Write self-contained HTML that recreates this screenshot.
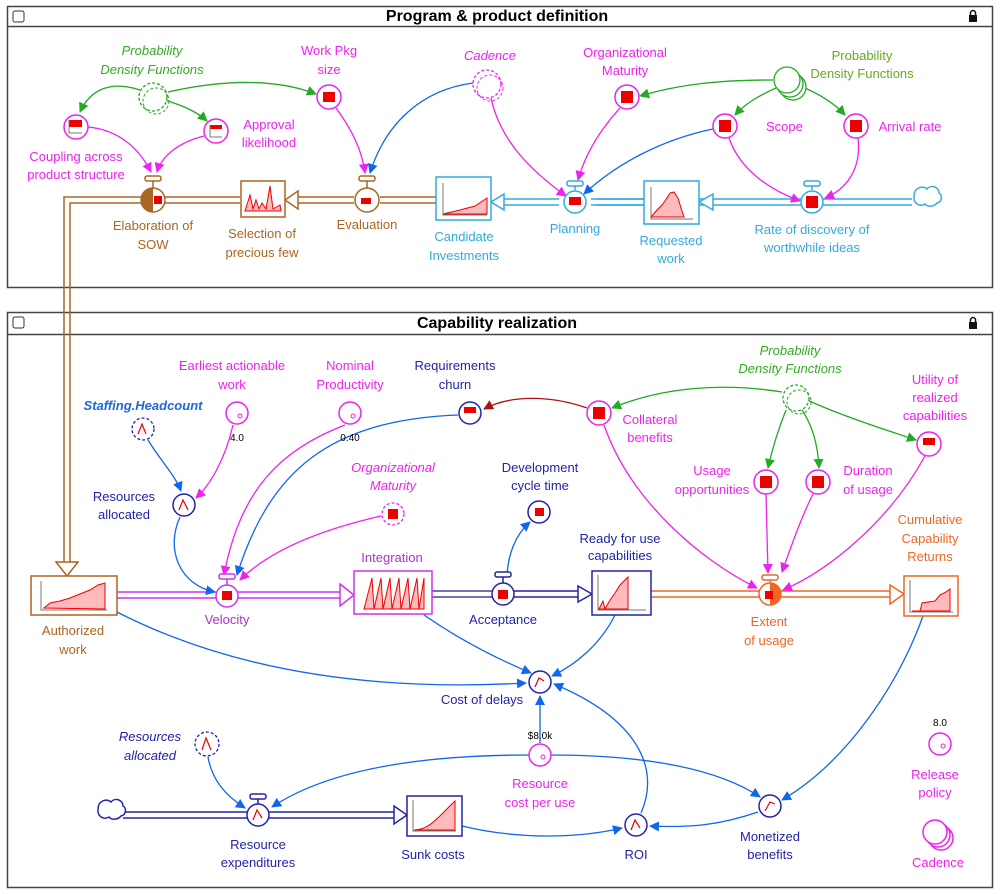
<!DOCTYPE html>
<html><head><meta charset="utf-8"><style>
body{margin:0;background:#fff}
svg{display:block;font-family:"Liberation Sans",sans-serif}
text{font-size:13px;text-anchor:middle}
.mg{fill:#ee22ee}.gr{fill:#33aa22}.yg{fill:#66aa22}.bl{fill:#2266dd}.cy{fill:#33aadd}.br{fill:#aa6622}.db{fill:#2222aa}.or{fill:#ee6622}.pu{fill:#aa33cc}
.it{font-style:italic}
</style></head><body>
<svg width="1000" height="894" viewBox="0 0 1000 894" xmlns="http://www.w3.org/2000/svg">
<defs>
<marker id="mm" markerWidth="10" markerHeight="10" refX="9" refY="5" orient="auto" markerUnits="userSpaceOnUse"><path d="M0,0L10,5L0,10z" fill="#ee22ee"/></marker>
<marker id="mg" markerWidth="10" markerHeight="10" refX="9" refY="5" orient="auto" markerUnits="userSpaceOnUse"><path d="M0,0L10,5L0,10z" fill="#22aa22"/></marker>
<marker id="mb" markerWidth="10" markerHeight="10" refX="9" refY="5" orient="auto" markerUnits="userSpaceOnUse"><path d="M0,0L10,5L0,10z" fill="#1166ee"/></marker>
<marker id="mr" markerWidth="10" markerHeight="10" refX="9" refY="5" orient="auto" markerUnits="userSpaceOnUse"><path d="M0,0L10,5L0,10z" fill="#aa1111"/></marker>
</defs>
<!-- frames -->
<rect x="7.5" y="6.5" width="985" height="281" fill="#fff" stroke="#444" stroke-width="1.5"/>
<line x1="7" y1="26.5" x2="992" y2="26.5" stroke="#444" stroke-width="1.5"/>
<text x="497" y="21" style="font-size:16px;font-weight:bold">Program &amp; product definition</text>
<rect x="13" y="11" width="11" height="11" rx="2" fill="#fff" stroke="#333"/>
<rect x="969" y="15" width="8" height="7" fill="#111"/><path d="M970.5,15v-2a2.5,2.5 0 0 1 5,0v2" fill="none" stroke="#111" stroke-width="1.5"/>
<rect x="7.5" y="312.5" width="985" height="575" fill="#fff" stroke="#444" stroke-width="1.5"/>
<line x1="7" y1="334.5" x2="992" y2="334.5" stroke="#444" stroke-width="1.5"/>
<text x="497" y="328" style="font-size:16px;font-weight:bold">Capability realization</text>
<rect x="13" y="317" width="11" height="11" rx="2" fill="#fff" stroke="#333"/>
<rect x="969" y="322" width="8" height="7" fill="#111"/><path d="M970.5,322v-2a2.5,2.5 0 0 1 5,0v2" fill="none" stroke="#111" stroke-width="1.5"/>

<!-- TOP flows -->
<g fill="none" stroke="#33aadd" stroke-width="1.5">
<path d="M912,199H591M912,205H591"/>
<path d="M699,199H597M699,205H597"/>
<path d="M559,199H504M559,205H504"/>
</g>
<path d="M713,194L699,202L713,210z M504,194L491,202L504,210z" fill="#fff" stroke="#33aadd" stroke-width="1.5"/>
<path d="M914,196c0,-8 8,-11 13,-7c4,-5 12,-2 12,4c4,2 3,9 -2,10c-3,4 -10,4 -12,1c-5,3 -12,0 -11,-8z" fill="#fff" stroke="#33aadd" stroke-width="1.5"/>
<g fill="none" stroke="#aa6622" stroke-width="1.5">
<path d="M436,197H380M436,203H380"/>
<path d="M354,197H298M354,203H298"/>
<path d="M240,197H165M240,203H165"/>
<path d="M141,197H64V562M141,203H70V562"/>
</g>
<path d="M298,191L285,200L298,209z" fill="#fff" stroke="#aa6622" stroke-width="1.5"/>
<path d="M56,562H78L67,576z" fill="#fff" stroke="#aa6622" stroke-width="1.5"/>

<!-- top connectors -->
<g fill="none" stroke-width="1.3">
<path d="M140,90C110,80 90,90 80,112" stroke="#22aa22" marker-end="url(#mg)"/>
<path d="M165,100C180,105 195,110 207,121" stroke="#22aa22" marker-end="url(#mg)"/>
<path d="M168,92C230,78 280,80 316,94" stroke="#22aa22" marker-end="url(#mg)"/>
<path d="M88,127C120,130 140,150 151,172" stroke="#ee22ee" marker-end="url(#mm)"/>
<path d="M204,136C180,142 162,155 157,172" stroke="#ee22ee" marker-end="url(#mm)"/>
<path d="M336,108C352,130 362,150 365,173" stroke="#ee22ee" marker-end="url(#mm)"/>
<path d="M473,83C420,90 385,125 370,173" stroke="#1166ee" marker-end="url(#mb)"/>
<path d="M491,98C500,140 530,170 566,196" stroke="#ee22ee" marker-end="url(#mm)"/>
<path d="M620,108C600,130 585,155 578,180" stroke="#ee22ee" marker-end="url(#mm)"/>
<path d="M713,129C660,140 615,165 584,194" stroke="#1166ee" marker-end="url(#mb)"/>
<path d="M773,80C720,80 680,84 640,96" stroke="#22aa22" marker-end="url(#mg)"/>
<path d="M776,88C758,96 745,104 735,115" stroke="#22aa22" marker-end="url(#mg)"/>
<path d="M800,86C820,94 835,104 845,115" stroke="#22aa22" marker-end="url(#mg)"/>
<path d="M729,138C740,170 770,190 800,201" stroke="#ee22ee" marker-end="url(#mm)"/>
<path d="M858,138C862,170 845,190 825,198" stroke="#ee22ee" marker-end="url(#mm)"/>
</g>

<!-- top nodes -->
<circle cx="153" cy="97" r="14" fill="#fff" stroke="#22aa22" stroke-dasharray="3,2" stroke-width="1.3"/>
<circle cx="156" cy="101" r="13" fill="none" stroke="#22aa22" stroke-dasharray="3,2" stroke-width="1"/>
<circle cx="487" cy="84" r="14" fill="#fff" stroke="#ee22ee" stroke-dasharray="3,2" stroke-width="1.3"/>
<circle cx="490" cy="88" r="13" fill="none" stroke="#ee22ee" stroke-dasharray="3,2" stroke-width="1"/>
<circle cx="793" cy="87" r="13" fill="#fff" stroke="#22aa22" stroke-width="1.3"/>
<circle cx="790" cy="84" r="13" fill="#fff" stroke="#22aa22" stroke-width="1.3"/>
<circle cx="787" cy="80" r="13" fill="#fff" stroke="#22aa22" stroke-width="1.3"/>
<g stroke="#ee22ee" stroke-width="1.5" fill="#fff">
<circle cx="76" cy="127" r="12"/><circle cx="216" cy="131" r="12"/><circle cx="329" cy="97" r="12"/>
<circle cx="627" cy="97" r="12"/><circle cx="725" cy="126" r="12"/><circle cx="856" cy="126" r="12"/>
</g>
<g fill="#ee0000">
<rect x="69" y="120" width="13" height="7"/><rect x="210" y="125" width="12" height="4"/><rect x="323" y="92" width="12" height="10"/>
<rect x="621" y="91" width="12" height="12"/><rect x="719" y="120" width="12" height="12"/><rect x="850" y="120" width="12" height="12"/>
</g>
<path d="M69,120V133H82M210,125V137H222" fill="none" stroke="#777" stroke-width="1"/>
<!-- valves top -->
<g stroke-width="1.5">
<rect x="145" y="176" width="16" height="5" rx="2" fill="#fff" stroke="#aa6622"/><line x1="153" y1="181" x2="153" y2="188" stroke="#aa6622"/>
<circle cx="153" cy="200" r="12" fill="#fff" stroke="#aa6622"/><path d="M153,188A12,12 0 0 0 153,212z" fill="#aa6622"/>
<rect x="359" y="176" width="16" height="5" rx="2" fill="#fff" stroke="#aa6622"/><line x1="367" y1="181" x2="367" y2="188" stroke="#aa6622"/>
<circle cx="367" cy="200" r="12" fill="#fff" stroke="#aa6622"/>
<rect x="567" y="181" width="16" height="5" rx="2" fill="#fff" stroke="#33aadd"/><line x1="575" y1="186" x2="575" y2="190" stroke="#33aadd"/>
<circle cx="575" cy="202" r="11" fill="#fff" stroke="#33aadd"/>
<rect x="804" y="181" width="16" height="5" rx="2" fill="#fff" stroke="#33aadd"/><line x1="812" y1="186" x2="812" y2="190" stroke="#33aadd"/>
<circle cx="812" cy="202" r="11" fill="#fff" stroke="#33aadd"/>
</g>
<rect x="154" y="196" width="8" height="8" fill="#ee0000"/><rect x="361" y="198" width="10" height="6" fill="#ee0000"/>
<rect x="569" y="197" width="12" height="8" fill="#ee0000"/><rect x="806" y="196" width="12" height="12" fill="#ee0000"/>
<!-- top stocks -->
<rect x="241" y="181" width="44" height="36" fill="#fff" stroke="#aa6622" stroke-width="1.5"/>
<path d="M245,211L250,195L253,209L256,200L259,209L262,203L266,209L270,186L273,209L280,205L281,211z" fill="#ffbbbb" stroke="#ee0000"/>
<rect x="436" y="177" width="55" height="43" fill="#fff" stroke="#33aadd" stroke-width="1.5"/>
<path d="M443,214L460,210L475,206L487,198V214z" fill="#ffbbbb" stroke="#ee0000"/>
<path d="M443,183V215H487" fill="none" stroke="#777"/>
<rect x="644" y="181" width="55" height="43" fill="#fff" stroke="#33aadd" stroke-width="1.5"/>
<path d="M651,217L657,210L662,205L667,198L670,193L674,192L678,198L681,208L684,217z" fill="#ffbbbb" stroke="#ee0000"/>
<path d="M651,187V219H693" fill="none" stroke="#777"/>
<!-- top labels -->
<text class="gr it" x="152" y="55">Probability</text><text class="gr it" x="152" y="74">Density Functions</text>
<text class="mg" x="76" y="161">Coupling across</text><text class="mg" x="76" y="179">product structure</text>
<text class="mg" x="269" y="129">Approval</text><text class="mg" x="269" y="147">likelihood</text>
<text class="mg" x="329" y="55">Work Pkg</text><text class="mg" x="329" y="74">size</text>
<text class="mg it" x="490" y="60">Cadence</text>
<text class="mg" x="625" y="57">Organizational</text><text class="mg" x="625" y="75">Maturity</text>
<text class="yg" x="862" y="60">Probability</text><text class="yg" x="862" y="78">Density Functions</text>
<text class="mg" x="766" y="131" style="text-anchor:start">Scope</text>
<text class="mg" x="910" y="131">Arrival rate</text>
<text class="br" x="153" y="230">Elaboration of</text><text class="br" x="153" y="249">SOW</text>
<text class="br" x="262" y="238">Selection of</text><text class="br" x="262" y="257">precious few</text>
<text class="br" x="367" y="229">Evaluation</text>
<text class="cy" x="464" y="241">Candidate</text><text class="cy" x="464" y="260">Investments</text>
<text class="cy" x="575" y="233">Planning</text>
<text class="cy" x="671" y="245">Requested</text><text class="cy" x="671" y="263">work</text>
<text class="cy" x="812" y="234">Rate of discovery of</text><text class="cy" x="812" y="252">worthwhile ideas</text>

<!-- BOTTOM flows -->
<g fill="none" stroke-width="1.5">
<path d="M117,592H216M117,598H216" stroke="#cc33ee"/>
<path d="M238,592H340M238,598H340" stroke="#cc33ee"/>
<path d="M432,591H492M432,597H492" stroke="#444499"/>
<path d="M514,591H578M514,597H578" stroke="#2222aa"/>
<path d="M651,591H759M651,597H759" stroke="#ee6622"/>
<path d="M781,591H890M781,597H890" stroke="#ee6622"/>
<path d="M123,812H247M123,818H247" stroke="#2222aa"/>
<path d="M269,812H394M269,818H394" stroke="#2222aa"/>
</g>
<path d="M340,584L354,595L340,606z" fill="#fff" stroke="#cc33ee" stroke-width="1.5"/>
<path d="M578,586L592,594L578,602z" fill="#fff" stroke="#2222aa" stroke-width="1.5"/>
<path d="M890,585L904,594L890,604z" fill="#fff" stroke="#ee6622" stroke-width="1.5"/>
<path d="M394,806L407,815L394,824z" fill="#fff" stroke="#2222aa" stroke-width="1.5"/>
<path d="M98,809c0,-8 8,-11 13,-7c4,-5 12,-2 12,4c4,2 3,9 -2,10c-3,4 -10,4 -12,1c-5,3 -12,0 -11,-8z" fill="#fff" stroke="#2222aa" stroke-width="1.5"/>

<!-- bottom connectors -->
<g fill="none" stroke-width="1.3">
<path d="M148,440C160,460 175,475 181,491" stroke="#1166ee" marker-end="url(#mb)"/>
<path d="M233,425C225,460 210,485 196,498" stroke="#ee22ee" marker-end="url(#mm)"/>
<path d="M180,517C165,550 180,585 215,592" stroke="#1166ee" marker-end="url(#mb)"/>
<path d="M345,425C280,450 240,490 224,575" stroke="#ee22ee" marker-end="url(#mm)"/>
<path d="M458,415C330,420 270,470 237,575" stroke="#1166ee" marker-end="url(#mb)"/>
<path d="M381,516C320,530 270,550 240,580" stroke="#ee22ee" marker-end="url(#mm)"/>
<path d="M587,408C550,395 510,395 484,409" stroke="#aa1111" marker-end="url(#mr)"/>
<path d="M782,392C720,382 660,388 612,408" stroke="#22aa22" marker-end="url(#mg)"/>
<path d="M786,410C778,430 772,450 768,468" stroke="#22aa22" marker-end="url(#mg)"/>
<path d="M802,410C812,425 818,445 819,468" stroke="#22aa22" marker-end="url(#mg)"/>
<path d="M807,400C840,415 880,428 916,440" stroke="#22aa22" marker-end="url(#mg)"/>
<path d="M604,425C630,500 700,560 757,588" stroke="#ee22ee" marker-end="url(#mm)"/>
<path d="M766,494L768,573" stroke="#ee22ee" marker-end="url(#mm)"/>
<path d="M813,494C800,520 790,550 782,572" stroke="#ee22ee" marker-end="url(#mm)"/>
<path d="M925,456C890,520 830,570 783,590" stroke="#ee22ee" marker-end="url(#mm)"/>
<path d="M507,576C508,555 515,535 530,522" stroke="#1166ee" marker-end="url(#mb)"/>
<path d="M117,612C250,680 400,690 526,683" stroke="#1166ee" marker-end="url(#mb)"/>
<path d="M424,615C460,640 500,660 531,673" stroke="#1166ee" marker-end="url(#mb)"/>
<path d="M615,615C600,645 575,665 552,676" stroke="#1166ee" marker-end="url(#mb)"/>
<path d="M540,743L540,696" stroke="#1166ee" marker-end="url(#mb)"/>
<path d="M641,813C660,770 640,720 554,684" stroke="#1166ee" marker-end="url(#mb)"/>
<path d="M208,757C212,780 225,795 245,808" stroke="#1166ee" marker-end="url(#mb)"/>
<path d="M530,755C400,755 320,775 272,807" stroke="#1166ee" marker-end="url(#mb)"/>
<path d="M550,755C650,755 720,770 760,797" stroke="#1166ee" marker-end="url(#mb)"/>
<path d="M462,826C520,840 580,838 622,828" stroke="#1166ee" marker-end="url(#mb)"/>
<path d="M758,812C720,825 690,828 650,826" stroke="#1166ee" marker-end="url(#mb)"/>
<path d="M923,616C900,680 850,760 782,800" stroke="#1166ee" marker-end="url(#mb)"/>
</g>

<!-- bottom nodes -->
<circle cx="143" cy="429" r="11" fill="#fff" stroke="#2222aa" stroke-dasharray="3,2" stroke-width="1.3"/>
<circle cx="207" cy="744" r="12" fill="#fff" stroke="#2222aa" stroke-dasharray="3,2" stroke-width="1.3"/>
<circle cx="796" cy="398" r="13" fill="#fff" stroke="#22aa22" stroke-dasharray="3,2" stroke-width="1.3"/>
<circle cx="799" cy="402" r="12" fill="none" stroke="#22aa22" stroke-dasharray="3,2" stroke-width="1"/>
<circle cx="393" cy="514" r="11" fill="#fff" stroke="#ee22ee" stroke-dasharray="3,2" stroke-width="1.3"/>
<g stroke-width="1.5" fill="#fff">
<circle cx="184" cy="505" r="11" stroke="#2222aa"/>
<circle cx="237" cy="413" r="11" stroke="#ee22ee"/>
<circle cx="350" cy="413" r="11" stroke="#ee22ee"/>
<circle cx="470" cy="413" r="11" stroke="#2222aa"/>
<circle cx="599" cy="413" r="12" stroke="#ee22ee"/>
<circle cx="929" cy="444" r="12" stroke="#ee22ee"/>
<circle cx="766" cy="482" r="12" stroke="#ee22ee"/>
<circle cx="818" cy="482" r="12" stroke="#ee22ee"/>
<circle cx="539" cy="512" r="11" stroke="#2222aa"/>
<circle cx="540" cy="682" r="11" stroke="#2222aa"/>
<circle cx="540" cy="755" r="11" stroke="#ee22ee"/>
<circle cx="636" cy="825" r="11" stroke="#2222aa"/>
<circle cx="770" cy="806" r="11" stroke="#2222aa"/>
<circle cx="940" cy="744" r="11" stroke="#ee22ee"/>
<circle cx="941" cy="838" r="12" stroke="#ee22ee"/>
<circle cx="938" cy="835" r="12" stroke="#ee22ee"/>
<circle cx="935" cy="832" r="12" stroke="#ee22ee"/>
</g>
<circle cx="240" cy="416" r="2" fill="none" stroke="#ee22ee"/><circle cx="353" cy="416" r="2" fill="none" stroke="#ee22ee"/><circle cx="943" cy="746" r="2" fill="none" stroke="#ee22ee"/><circle cx="543" cy="757" r="2" fill="none" stroke="#ee22ee"/>
<g fill="#ee0000">
<rect x="464" y="407" width="12" height="6"/><rect x="593" y="407" width="12" height="12"/><rect x="923" y="438" width="12" height="7"/>
<rect x="760" y="476" width="12" height="12"/><rect x="812" y="476" width="12" height="12"/><rect x="388" y="509" width="10" height="10"/>
<rect x="535" y="508" width="9" height="8"/>
</g>
<g fill="none" stroke="#ee0000" stroke-width="1.2">
<path d="M138,434L142,424L146,434"/><path d="M179,510L183,500L188,510"/><path d="M202,750L206,738L211,750"/>
<path d="M535,687L539,678L544,681"/><path d="M631,830L635,820L640,828"/><path d="M765,811L770,802L775,804"/>
</g>
<!-- valves bottom -->
<g stroke-width="1.5">
<rect x="219" y="574" width="16" height="5" rx="2" fill="#fff" stroke="#cc33ee"/><line x1="227" y1="579" x2="227" y2="585" stroke="#cc33ee"/>
<circle cx="227" cy="596" r="11" fill="#fff" stroke="#cc33ee"/>
<rect x="495" y="572" width="16" height="5" rx="2" fill="#fff" stroke="#2222aa"/><line x1="503" y1="577" x2="503" y2="583" stroke="#2222aa"/>
<circle cx="503" cy="594" r="11" fill="#fff" stroke="#2222aa"/>
<rect x="762" y="575" width="16" height="5" rx="2" fill="#fff" stroke="#ee6622"/><line x1="770" y1="580" x2="770" y2="583" stroke="#ee6622"/>
<circle cx="770" cy="594" r="11" fill="#fff" stroke="#ee6622"/><path d="M770,583A11,11 0 0 1 770,605z" fill="#ee6622"/>
<rect x="250" y="794" width="16" height="5" rx="2" fill="#fff" stroke="#2222aa"/><line x1="258" y1="799" x2="258" y2="804" stroke="#2222aa"/>
<circle cx="258" cy="815" r="11" fill="#fff" stroke="#2222aa"/>
</g>
<rect x="222" y="591" width="10" height="9" fill="#ee0000"/><rect x="498" y="590" width="10" height="9" fill="#ee0000"/><rect x="765" y="591" width="8" height="8" fill="#ee0000"/>
<path d="M253,820L257,810L262,818" fill="none" stroke="#ee0000" stroke-width="1.2"/>
<!-- bottom stocks -->
<rect x="31" y="576" width="86" height="39" fill="#fff" stroke="#aa6622" stroke-width="1.5"/>
<path d="M44,608L50,603L60,601L70,598L80,594L90,590L98,585L105,583V609z" fill="#ffbbbb" stroke="#ee0000"/>
<path d="M41,581V610H107" fill="none" stroke="#777"/>
<rect x="354" y="571" width="78" height="43" fill="#fff" stroke="#cc33ee" stroke-width="1.5"/>
<path d="M364,609L372,578L374,609L381,578L383,609L390,578L392,609L399,578L401,609L408,578L410,609L417,578L419,609L424,578V609z" fill="#ffbbbb" stroke="#ee0000"/>
<rect x="592" y="571" width="59" height="44" fill="#fff" stroke="#2222aa" stroke-width="1.5"/>
<path d="M599,609L603,601L605,609L610,600L615,593L620,585L625,580L628,577V609z" fill="#ffbbbb" stroke="#ee0000"/>
<path d="M598,575V610H646" fill="none" stroke="#777"/>
<rect x="904" y="576" width="54" height="40" fill="#fff" stroke="#ee6622" stroke-width="1.5"/>
<path d="M912,611L920,611L922,603L935,601L940,595L946,592L950,589V611z" fill="#ffbbbb" stroke="#ee0000"/>
<path d="M910,580V612H953" fill="none" stroke="#777"/>
<rect x="407" y="796" width="55" height="40" fill="#fff" stroke="#2222aa" stroke-width="1.5"/>
<path d="M414,830C430,830 440,815 455,801V830z" fill="#ffbbbb" stroke="#ee0000"/>
<path d="M413,800V831H456" fill="none" stroke="#777"/>
<!-- bottom labels -->
<text class="bl it" x="143" y="410" style="font-weight:bold">Staffing.Headcount</text>
<text class="db" x="124" y="501">Resources</text><text class="db" x="124" y="519">allocated</text>
<text class="mg" x="232" y="370">Earliest actionable</text><text class="mg" x="232" y="389">work</text>
<text x="237" y="441" style="font-size:10px">4.0</text>
<text class="mg" x="350" y="370">Nominal</text><text class="mg" x="350" y="389">Productivity</text>
<text x="350" y="441" style="font-size:10px">0.40</text>
<text class="db" x="455" y="370">Requirements</text><text class="db" x="455" y="389">churn</text>
<text class="mg" x="650" y="424">Collateral</text><text class="mg" x="650" y="442">benefits</text>
<text class="gr it" x="790" y="355">Probability</text><text class="gr it" x="790" y="373">Density Functions</text>
<text class="mg" x="935" y="384">Utility of</text><text class="mg" x="935" y="402">realized</text><text class="mg" x="935" y="420">capabilities</text>
<text class="mg" x="712" y="475">Usage</text><text class="mg" x="712" y="494">opportunities</text>
<text class="mg" x="868" y="475">Duration</text><text class="mg" x="868" y="494">of usage</text>
<text class="mg it" x="393" y="472">Organizational</text><text class="mg it" x="393" y="490">Maturity</text>
<text class="db" x="540" y="472">Development</text><text class="db" x="540" y="490">cycle time</text>
<text class="pu" x="392" y="562">Integration</text>
<text class="db" x="620" y="543">Ready for use</text><text class="db" x="620" y="560">capabilities</text>
<text class="or" x="930" y="524">Cumulative</text><text class="or" x="930" y="543">Capability</text><text class="or" x="930" y="561">Returns</text>
<text class="br" x="73" y="635">Authorized</text><text class="br" x="73" y="654">work</text>
<text class="pu" x="227" y="624">Velocity</text>
<text class="db" x="503" y="624">Acceptance</text>
<text class="or" x="769" y="626">Extent</text><text class="or" x="769" y="645">of usage</text>
<text class="db" x="482" y="704">Cost of delays</text>
<text x="540" y="739" style="font-size:10px">$8.0k</text>
<text class="mg" x="540" y="788">Resource</text><text class="mg" x="540" y="807">cost per use</text>
<text class="db it" x="150" y="741">Resources</text><text class="db it" x="150" y="760">allocated</text>
<text class="db" x="258" y="849">Resource</text><text class="db" x="258" y="867">expenditures</text>
<text class="db" x="433" y="859">Sunk costs</text>
<text class="db" x="636" y="859">ROI</text>
<text class="db" x="770" y="841">Monetized</text><text class="db" x="770" y="859">benefits</text>
<text x="940" y="726" style="font-size:10px">8.0</text>
<text class="mg" x="935" y="779">Release</text><text class="mg" x="935" y="797">policy</text>
<text class="mg" x="938" y="867">Cadence</text>
</svg>
</body></html>
